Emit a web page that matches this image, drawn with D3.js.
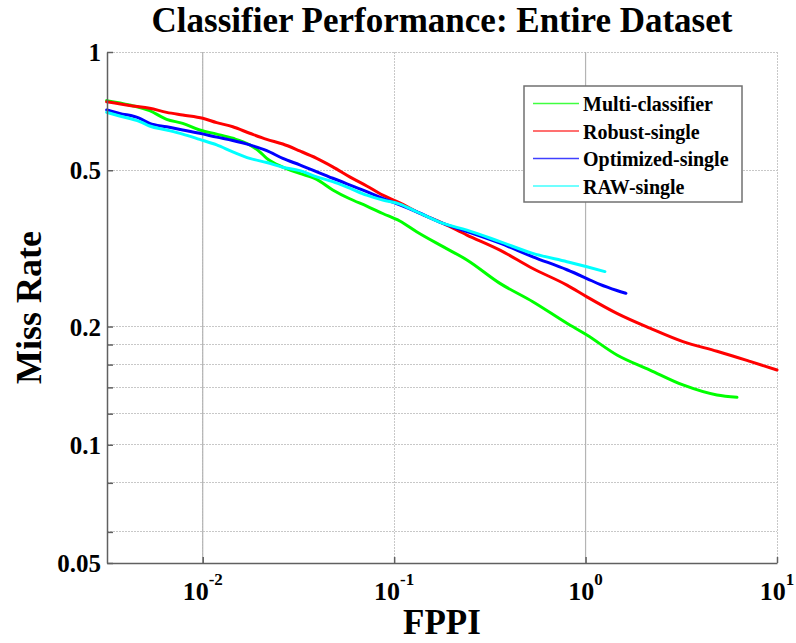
<!DOCTYPE html>
<html>
<head>
<meta charset="utf-8">
<script src="https://cdn.jsdelivr.net/npm/d3@7"></script>
<style>
  html, body { margin: 0; padding: 0; background: #fff; }
  svg { display: block; }
  text { font-family: "Liberation Serif", "Times New Roman", serif; font-weight: bold; fill: #000; }
</style>
</head>
<body>
<svg id="chart" width="796" height="643"></svg>
<script>
// ---------- data ----------
const seriesNames = ["Multi-classifier", "Robust-single", "Optimized-single", "RAW-single"];
const seriesColors = ["#00ff00", "#ff0000", "#0000ff", "#00ffff"];

const multiFppi = [0.00315, 0.00415, 0.00528, 0.00648, 0.00786, 0.00964, 0.01183, 0.01435, 0.0176, 0.01986, 0.0216, 0.0262, 0.0321, 0.0394, 0.0478, 0.0586, 0.0719, 0.0872, 0.107, 0.131, 0.180, 0.240, 0.357, 0.530, 0.799, 1.016, 1.458, 2.169, 3.227, 4.858, 6.179];
const multiMiss = [0.752, 0.733, 0.709, 0.674, 0.658, 0.633, 0.618, 0.603, 0.580, 0.557, 0.536, 0.509, 0.491, 0.474, 0.4455, 0.423, 0.4054, 0.388, 0.3713, 0.3487, 0.3194, 0.2955, 0.2576, 0.2313, 0.2039, 0.1903, 0.1693, 0.1550, 0.1420, 0.1339, 0.1321];

const robustFppi = [0.00315, 0.00431, 0.00528, 0.00648, 0.00786, 0.0100, 0.01183, 0.01435, 0.0176, 0.0216, 0.0262, 0.0321, 0.0394, 0.0478, 0.0586, 0.0719, 0.0872, 0.107, 0.131, 0.180, 0.240, 0.357, 0.530, 0.799, 1.016, 1.458, 2.169, 3.227, 4.858, 7.226, 10.0];
const robustMiss = [0.747, 0.729, 0.719, 0.702, 0.691, 0.678, 0.661, 0.645, 0.621, 0.599, 0.583, 0.560, 0.536, 0.510, 0.481, 0.456, 0.432, 0.413, 0.392, 0.366, 0.342, 0.313, 0.281, 0.255, 0.238, 0.216, 0.198, 0.183, 0.173, 0.163, 0.155];

const optimFppi = [0.00315, 0.00368, 0.00469, 0.00528, 0.00648, 0.00786, 0.00964, 0.01183, 0.01435, 0.0176, 0.0216, 0.0262, 0.0321, 0.0478, 0.0719, 0.0872, 0.107, 0.131, 0.180, 0.240, 0.357, 0.530, 0.799, 1.016, 1.188, 1.458, 1.625];
const optimMiss = [0.712, 0.698, 0.678, 0.658, 0.645, 0.633, 0.621, 0.607, 0.595, 0.580, 0.561, 0.536, 0.516, 0.477, 0.441, 0.424, 0.408, 0.392, 0.366, 0.349, 0.326, 0.301, 0.279, 0.265, 0.256, 0.247, 0.243];

const rawFppi = [0.00315, 0.00368, 0.00469, 0.00528, 0.00648, 0.00786, 0.00964, 0.01183, 0.01435, 0.0176, 0.0216, 0.0262, 0.0321, 0.0394, 0.0478, 0.0586, 0.0719, 0.0872, 0.107, 0.131, 0.180, 0.240, 0.357, 0.530, 0.799, 1.016, 1.262];
const rawMiss = [0.702, 0.687, 0.665, 0.648, 0.633, 0.618, 0.599, 0.580, 0.557, 0.536, 0.523, 0.509, 0.499, 0.481, 0.4675, 0.450, 0.432, 0.420, 0.410, 0.392, 0.366, 0.352, 0.329, 0.307, 0.2925, 0.284, 0.276];

const xTickExps = [-2, -1, 0, 1];
const yTickValues = [0.05, 0.06, 0.08, 0.1, 0.12, 0.14, 0.16, 0.18, 0.2, 0.5, 1];
const yTickLabels = { "0.05": "0.05", "0.1": "0.1", "0.2": "0.2", "0.5": "0.5", "1": "1" };
const refLineExps = [-2, 0];

const titleText = "Classifier Performance: Entire Dataset";
const xLabel = "FPPI";
const yLabel = "Miss Rate";

// ---------- layout ----------
const svg = d3.select("#chart");
const L = 107, R = 777, T = 52, B = 563;

const x = d3.scaleLog().domain([Math.pow(10, -2.5), 10]).range([L, R]);
const y = d3.scaleLog().domain([0.05, 1]).range([B, T]);

// gridlines (dotted)
const grid = svg.append("g");
grid.selectAll("line.hy").data(yTickValues.filter(v => v !== 0.05)).enter().append("line")
  .attr("x1", L).attr("x2", R)
  .attr("y1", d => y(d)).attr("y2", d => y(d))
  .attr("stroke", "#c8c8c8").attr("stroke-width", 1).attr("stroke-dasharray", "1.5,1.5")
  .attr("shape-rendering", "crispEdges");
grid.selectAll("line.vx").data(xTickExps).enter().append("line")
  .attr("x1", d => x(Math.pow(10, d))).attr("x2", d => x(Math.pow(10, d)))
  .attr("y1", T).attr("y2", B)
  .attr("stroke", "#c8c8c8").attr("stroke-width", 1).attr("stroke-dasharray", "1.5,1.5")
  .attr("shape-rendering", "crispEdges");
// solid reference lines
grid.selectAll("line.ref").data(refLineExps).enter().append("line")
  .attr("x1", d => x(Math.pow(10, d))).attr("x2", d => x(Math.pow(10, d)))
  .attr("y1", T).attr("y2", B)
  .attr("stroke", "#b4b4b4").attr("stroke-width", 1.2);

// curves
const series = [
  { name: seriesNames[0], color: seriesColors[0], fx: multiFppi, my: multiMiss },
  { name: seriesNames[1], color: seriesColors[1], fx: robustFppi, my: robustMiss },
  { name: seriesNames[2], color: seriesColors[2], fx: optimFppi, my: optimMiss },
  { name: seriesNames[3], color: seriesColors[3], fx: rawFppi, my: rawMiss }
];
const line = d3.line().x(d => x(d[0])).y(d => y(d[1])).curve(d3.curveMonotoneX);
svg.append("g").selectAll("path").data(series).enter().append("path")
  .attr("d", s => line(s.fx.map((v, i) => [v, s.my[i]])))
  .attr("fill", "none").attr("stroke", s => s.color).attr("stroke-width", 3)
  .attr("stroke-linejoin", "round").attr("stroke-linecap", "round");

// axes
const yAxis = d3.axisLeft(y).tickValues(yTickValues).tickSizeInner(-6).tickSizeOuter(0).tickPadding(6)
  .tickFormat(d => yTickLabels[String(d)] || "");
const gy = svg.append("g").attr("transform", `translate(${L},0)`).call(yAxis);
gy.select(".domain").attr("stroke", "#606060").attr("stroke-width", 1.5);
gy.selectAll(".tick line").attr("stroke", "#606060").attr("stroke-width", 1.5);
gy.selectAll(".tick text").attr("font-size", 25).attr("font-family", "Liberation Serif")
  .attr("font-weight", "bold").attr("fill", "#000").attr("dy", "0.34em");

const xAxis = d3.axisBottom(x).tickValues(xTickExps.map(e => Math.pow(10, e))).tickSizeInner(-6).tickSizeOuter(0)
  .tickFormat(() => "");
const gx = svg.append("g").attr("transform", `translate(0,${B})`).call(xAxis);
gx.select(".domain").attr("stroke", "#606060").attr("stroke-width", 1.5);
gx.selectAll(".tick line").attr("stroke", "#606060").attr("stroke-width", 1.5);

// x tick labels with superscript exponents
const xl = svg.append("g").selectAll("text").data(xTickExps).enter().append("text")
  .attr("x", d => x(Math.pow(10, d)))
  .attr("y", 600)
  .attr("text-anchor", "middle");
xl.append("tspan").attr("font-size", 26).text("10");
xl.append("tspan").attr("font-size", 17).attr("dy", -15).text(d => String(d));

// title and axis labels
svg.append("text").attr("x", (L + R) / 2).attr("y", 32).attr("text-anchor", "middle")
  .attr("font-size", 35).text(titleText);
svg.append("text").attr("x", (L + R) / 2).attr("y", 634).attr("text-anchor", "middle")
  .attr("font-size", 35).text(xLabel);
svg.append("text").attr("transform", `translate(41,${(T + B) / 2}) rotate(-90)`).attr("text-anchor", "middle")
  .attr("font-size", 36).text(yLabel);

// legend
const lg = svg.append("g");
lg.append("rect").attr("x", 524).attr("y", 86).attr("width", 218).attr("height", 116)
  .attr("fill", "#fff").attr("stroke", "#707070").attr("stroke-width", 1.5);
const rowY = i => 103.5 + i * 27.5;
const rows = lg.selectAll("g.row").data(series).enter().append("g");
rows.append("line").attr("x1", 533).attr("x2", 579)
  .attr("y1", (d, i) => rowY(i)).attr("y2", (d, i) => rowY(i))
  .attr("stroke", d => d.color).attr("stroke-width", 1.5).attr("stroke-opacity", 0.75);
rows.append("text").attr("x", 583).attr("y", (d, i) => rowY(i) + 7.5)
  .attr("font-size", 20).text(d => d.name);
</script>
</body>
</html>
